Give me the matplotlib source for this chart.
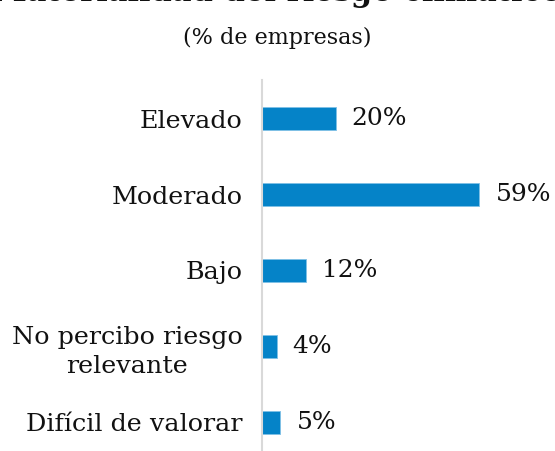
import matplotlib.pyplot as plt

# data
categorias = ["Elevado", "Moderado", "Bajo", "No percibo riesgo\nrelevante", "Difícil de valorar"]
valores = [20, 59, 12, 4, 5]
etiquetas = ["20%", "59%", "12%", "4%", "5%"]

titulo = "Materialidad del riesgo climático"
subtitulo = "(% de empresas)"

plt.rcParams['font.family'] = ['DejaVu Serif']

W, H = 555, 451
fig = plt.figure(figsize=(W / 100, H / 100), dpi=100)

# axes: left edge at the vertical line, top near 80 px, bottom at figure edge
ax = fig.add_axes([262 / W, 0, 258 / W, (H - 80) / H])

pos = list(range(len(categorias)))
ax.barh(pos, valores, height=0.3, color="#0583c8", edgecolor="#7fc0e6", linewidth=0.6)
ax.set_xlim(0, 70)
ax.set_ylim(4.38, -0.51)

for y, v, t in zip(pos, valores, etiquetas):
    ax.annotate(t, (v, y), xytext=(11.5, 0), textcoords="offset points",
                va="center", ha="left", fontsize=18, color="#111111")

ax.set_yticks(pos)
ax.set_yticklabels(categorias, fontsize=18.3, color="#111111", multialignment="center")
for lab in ax.get_yticklabels():
    lab.set_linespacing(1.35)
ax.tick_params(axis="y", length=0, pad=14)
ax.set_xticks([])

for s in ["top", "right", "bottom"]:
    ax.spines[s].set_visible(False)
ax.spines["left"].set_color("#d9d9d9")
ax.spines["left"].set_linewidth(1.5)

# title is cut off at the top of the picture, only its lower part shows
fig.text(277 / W, 1 - 0.5 / H, titulo, ha="center", va="baseline",
         fontsize=22, fontweight="bold", color="#111111")
fig.text(277 / W, 1 - 38 / H, subtitulo, ha="center", va="center",
         fontsize=16, color="#111111")

fig.savefig("out.png", dpi=100)
